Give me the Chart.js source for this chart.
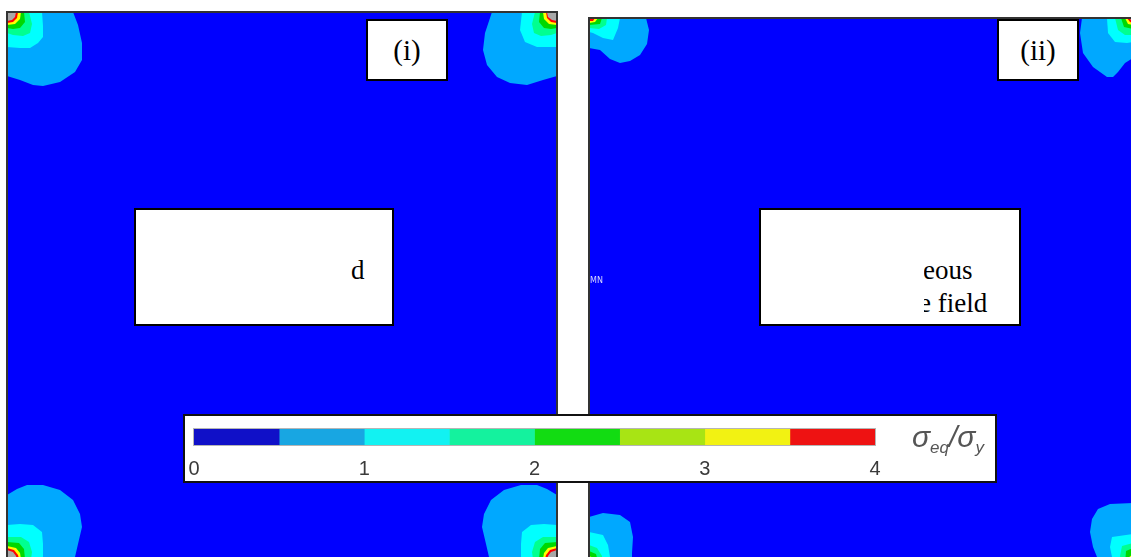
<!DOCTYPE html>
<html><head><meta charset="utf-8">
<script src="https://cdn.jsdelivr.net/npm/chart.js@4.4.1/dist/chart.umd.min.js"></script>
<style>
html,body{margin:0;padding:0;background:#fff;}
body{width:1131px;height:557px;overflow:hidden;position:relative;}
.pan{position:absolute;}
.box{position:absolute;box-sizing:border-box;border:2px solid #000;background:#fff;font-family:"Liberation Serif","Times New Roman",serif;color:#000;overflow:hidden;}
.lab{display:flex;align-items:center;justify-content:center;font-size:29px;}
.t{position:absolute;font-family:"Liberation Serif","Times New Roman",serif;font-size:27px;line-height:normal;white-space:nowrap;}
#cbw{position:absolute;left:183px;top:414px;width:814px;height:69px;box-sizing:border-box;border:2px solid #111;background:#fff;}
#cbc{position:absolute;left:0;top:0;width:810px;height:65px;}
#cbt{position:absolute;left:727px;top:4px;font-family:"Liberation Sans",Arial,sans-serif;font-style:italic;font-size:30px;color:#555;line-height:normal;white-space:nowrap;}
#cbt sub{font-size:17px;vertical-align:-6px;}
#mn{position:absolute;left:590px;top:276px;font-family:"DejaVu Sans",sans-serif;font-size:8px;color:#d8d8ff;}
</style></head><body>
<div class="pan" style="left:6px;top:11px;width:552px;height:549px"><canvas id="p1"></canvas></div>
<div class="pan" style="left:588px;top:17px;width:546px;height:549px"><canvas id="p2"></canvas></div>
<div id="mn">MN</div>
<div class="box lab" style="left:366px;top:19px;width:82px;height:62px">(i)</div>
<div class="box lab" style="left:997px;top:19px;width:82px;height:62px">(ii)</div>
<div class="box" style="left:134px;top:208px;width:260px;height:118px"><span class="t" style="left:215px;top:45px">d</span></div>
<div class="box" style="left:759px;top:208px;width:262px;height:118px">
  <div style="position:absolute;left:163px;top:0;right:0;bottom:0;overflow:hidden">
    <span class="t" style="left:-1px;top:45px">eous</span>
    <span class="t" style="left:-5px;top:78px">e field</span>
  </div>
</div>
<div id="cbw"><div id="cbc"><canvas id="cb"></canvas></div>
<div id="cbt">σ<sub>eq</sub>/σ<sub>y</sub></div></div>
<script>
// ---- colour bar data ----
const cbEdges = [0, 0.5, 1, 1.5, 2, 2.5, 3, 3.5, 4];
const cbColors = ['#1010C8', '#18A6E2', '#12F2F2', '#14F29E', '#12DC12', '#A8E414', '#F2F212', '#EE1212'];
const cbTicks = [0, 1, 2, 3, 4];

// ---- contour level colours (light blue .. gray hole) ----
const levelColors = ['#00A8FF', '#00FFFF', '#00FF90', '#00D800', '#FFFF00', '#FF0000', '#A8A8A8'];

// ---- panel (i): contour outlines per corner, [x, y] in panel units ----
const p1TL = [
  [[0,0],[66,0],[71,13],[75,31],[75,48],[68,60],[53,70],[36,74],[26,73],[13,68],[0,64]],
  [[0,0],[35,0],[36,14],[36,25],[31,31],[23,36],[13,36],[0,35]],
  [[0,0],[22,0],[25,12],[23,21],[16,24],[6,23],[0,21]],
  [[0,0],[17,0],[18,10],[13,16],[6,17],[0,16]],
  [[0,0],[14,0],[13,7],[8,12],[0,13]],
  [[0,0],[11,0],[10,6],[6,10],[0,11]],
  [[0,0],[9,0],[8,5],[5,8],[0,9]]
];
const p1TR = [
  [[550,0],[485,0],[478,21],[476,38],[480,53],[490,65],[503,71],[520,73],[536,68],[550,64]],
  [[550,0],[515,0],[513,18],[518,30],[530,35],[550,35]],
  [[550,0],[528,0],[525,12],[527,21],[534,24],[544,23],[550,21]],
  [[550,0],[533,0],[532,10],[537,16],[544,17],[550,16]],
  [[550,0],[536,0],[537,7],[542,12],[550,13]],
  [[550,0],[539,0],[540,6],[544,10],[550,11]],
  [[550,0],[540,0],[541,5],[545,8],[550,9]]
];
const p1BL = [
  [[0,547],[0,483],[10,477],[20,473],[36,473],[53,478],[66,488],[73,502],[75,515],[71,532],[68,545],[67,547]],
  [[0,547],[0,513],[13,512],[26,513],[35,520],[36,532],[36,547]],
  [[0,547],[0,525],[14,525],[22,530],[25,540],[24,547]],
  [[0,547],[0,530],[12,531],[17,537],[18,547]],
  [[0,547],[0,534],[9,536],[13,541],[14,547]],
  [[0,547],[0,536],[7,538],[11,543],[12,547]],
  [[0,547],[0,538],[6,540],[9,544],[10,547]]
];
const p1BR = [
  [[550,547],[550,483],[540,477],[530,473],[514,473],[497,478],[484,488],[477,502],[475,515],[479,532],[482,545],[483,547]],
  [[550,547],[550,513],[537,512],[524,513],[515,520],[514,532],[514,547]],
  [[550,547],[550,525],[536,525],[528,530],[525,540],[526,547]],
  [[550,547],[550,530],[538,531],[533,537],[532,547]],
  [[550,547],[550,534],[541,536],[537,541],[536,547]],
  [[550,547],[550,536],[543,538],[539,543],[538,547]],
  [[550,547],[550,538],[544,540],[541,544],[540,547]]
];

// ---- panel (ii) ----
const p2TL = [
  [[0,0],[57,0],[60,12],[58,26],[51,37],[41,43],[31,45],[21,41],[11,32],[0,30]],
  [[0,0],[31,0],[29,10],[24,22],[14,20],[4,15],[0,14]],
  [[0,0],[18,0],[17,7],[10,11],[0,10]],
  [[0,0],[13,0],[11,6],[0,7]],
  [[0,0],[9,0],[6,4],[0,5]],
  [[0,0],[6,0],[4,3],[0,3]]
];
const p2TR = [
  [[544,0],[493,0],[491,15],[494,35],[504,49],[518,59],[524,59],[529,54],[536,45],[544,40]],
  [[544,0],[518,0],[519,15],[526,24],[538,25],[544,24]],
  [[544,0],[526,0],[529,12],[536,17],[544,17]],
  [[544,0],[532,0],[535,9],[544,11]],
  [[544,0],[536,0],[539,6],[544,7]],
  [[544,0],[538,0],[541,4],[544,5]],
  [[544,0],[540,0],[542,2],[544,3]]
];
const p2BL = [
  [[0,547],[0,499],[14,495],[31,497],[41,504],[44,519],[43,535],[43,547]],
  [[0,547],[0,514],[14,517],[19,527],[21,539],[21,547]],
  [[0,547],[0,527],[8,530],[13,538],[14,547]],
  [[0,547],[0,533],[7,536],[10,547]],
  [[0,547],[0,538],[5,540],[7,547]],
  [[0,547],[0,541],[4,543],[5,547]]
];
const p2BR = [
  [[544,547],[544,485],[521,486],[509,491],[503,501],[501,514],[504,529],[508,539],[510,547]],
  [[544,547],[544,516],[523,519],[521,529],[523,539],[524,547]],
  [[544,547],[544,525],[533,528],[531,538],[532,547]],
  [[544,547],[544,530],[537,533],[536,547]],
  [[544,547],[544,536],[539,540],[539,547]],
  [[544,547],[544,540],[541,543],[541,547]]
];

function buildDatasets(corners) {
  const ds = [];
  corners.forEach(levels => {
    levels.forEach((pts, li) => {
      ds.push({
        type: 'line',
        data: pts.map(p => ({x: p[0], y: p[1]})),
        fill: 'shape',
        backgroundColor: levelColors[li],
        borderColor: 'rgba(0,0,0,0)',
        borderWidth: 0,
        pointRadius: 0,
        pointHoverRadius: 0,
        tension: 0,
        order: levelColors.length - li
      });
    });
  });
  return ds;
}

const panelPlugin = {
  id: 'panelFrame',
  beforeDatasetsDraw(c) {
    const a = c.chartArea, ctx = c.ctx;
    ctx.save();
    ctx.fillStyle = '#0000FF';
    ctx.fillRect(a.left, a.top, a.right - a.left, a.bottom - a.top);
    ctx.restore();
  },
  afterDatasetsDraw(c) {
    const a = c.chartArea, ctx = c.ctx;
    ctx.save();
    ctx.strokeStyle = '#333';
    ctx.lineWidth = 2;
    ctx.strokeRect(a.left, a.top, a.right - a.left, a.bottom - a.top);
    ctx.restore();
  }
};

function panelChart(id, corners, w, h) {
  return new Chart(document.getElementById(id), {
    type: 'line',
    data: {datasets: buildDatasets(corners)},
    options: {
      responsive: true, maintainAspectRatio: false, animation: false,
      layout: {padding: 1},
      plugins: {legend: {display: false}, tooltip: {enabled: false}},
      events: [],
      scales: {
        x: {type: 'linear', min: 0, max: w, display: false},
        y: {type: 'linear', min: 0, max: h, reverse: true, display: false}
      }
    },
    plugins: [panelPlugin]
  });
}

panelChart('p1', [p1TL, p1TR, p1BL, p1BR], 550, 547);
panelChart('p2', [p2TL, p2TR, p2BL, p2BR], 544, 547);

// ---- colour bar ----
const cbDatasets = cbColors.map((col, i) => ({
  data: [[cbEdges[i], cbEdges[i + 1]]],
  backgroundColor: col,
  borderWidth: 0,
  grouped: false,
  barPercentage: 1,
  categoryPercentage: 1
}));
const stripPlugin = {
  id: 'strip',
  afterDatasetsDraw(c) {
    const a = c.chartArea, ctx = c.ctx;
    ctx.save();
    ctx.strokeStyle = 'rgba(150,150,150,0.7)';
    ctx.lineWidth = 1;
    ctx.strokeRect(a.left - 0.5, a.top - 0.5, a.right - a.left + 1, a.bottom - a.top + 1);
    ctx.restore();
  }
};
new Chart(document.getElementById('cb'), {
  type: 'bar',
  data: {labels: [''], datasets: cbDatasets},
  options: {
    indexAxis: 'y',
    responsive: true, maintainAspectRatio: false, animation: false,
    layout: {padding: {left: 9, right: 120, top: 13, bottom: 0}},
    plugins: {legend: {display: false}, tooltip: {enabled: false}},
    events: [],
    scales: {
      x: {
        type: 'linear', min: cbTicks[0], max: cbTicks[cbTicks.length - 1],
        grid: {display: false, drawTicks: false},
        border: {display: false},
        afterBuildTicks(s) { s.ticks = cbTicks.map(v => ({value: v})); },
        afterFit(s) { s.height = 36; s.paddingLeft = 0; s.paddingRight = 0; },
        ticks: {autoSkip: false, padding: 12, color: '#3a3a3a', font: {family: 'Liberation Sans, Arial, sans-serif', size: 20}}
      },
      y: {display: false}
    }
  },
  plugins: [stripPlugin]
});
</script>
</body></html>
